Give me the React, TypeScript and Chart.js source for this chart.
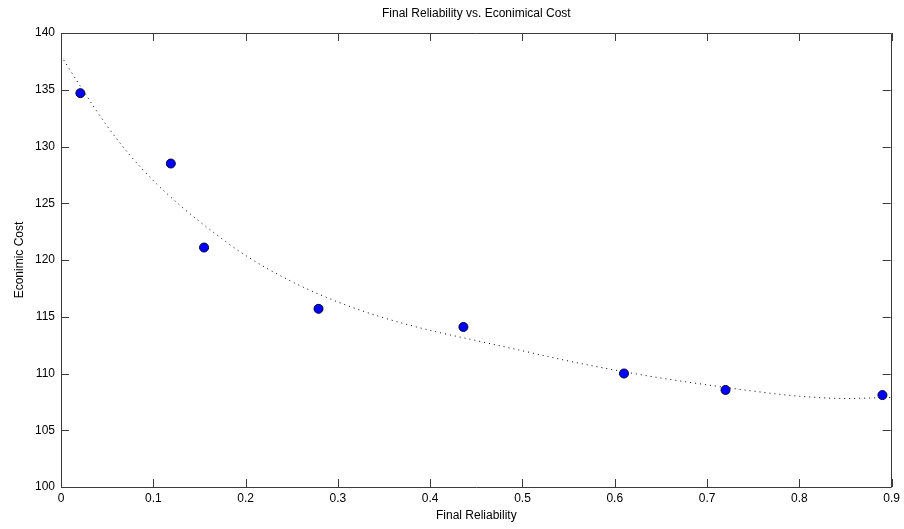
import React, { useEffect, useRef } from "react";
import { Chart, registerables } from "chart.js";

Chart.register(...registerables);

const chartTitle = "Final Reliability vs. Econimical Cost";
const xAxisTitle = "Final Reliability";
const yAxisTitle = "Econimic Cost";

const xTickValues = [0, 0.1, 0.2, 0.3, 0.4, 0.5, 0.6, 0.7, 0.8, 0.9];
const xTickLabels = ["0", "0.1", "0.2", "0.3", "0.4", "0.5", "0.6", "0.7", "0.8", "0.9"];
const yTickValues = [100, 105, 110, 115, 120, 125, 130, 135, 140];
const yTickLabels = ["100", "105", "110", "115", "120", "125", "130", "135", "140"];

// measured points
const reliability = [0.021, 0.119, 0.155, 0.279, 0.436, 0.61, 0.72, 0.89];
const cost = [134.7, 128.5, 121.1, 115.7, 114.1, 110.0, 108.55, 108.1];

// fitted curve
const fitX = [0, 0.025, 0.05, 0.075, 0.1, 0.125, 0.15, 0.2, 0.25, 0.3, 0.35, 0.4, 0.45, 0.5, 0.55, 0.6, 0.65, 0.7, 0.75, 0.8, 0.85, 0.9];
const fitY = [138.0, 134.8, 131.8, 129.2, 127.0, 125.1, 123.4, 120.4, 118.1, 116.3, 114.9, 113.8, 112.9, 112.0, 111.1, 110.3, 109.6, 109.0, 108.45, 108.0, 107.8, 107.9];

const FONT = "'Liberation Sans', Arial, sans-serif";

const boxPlugin = {
  id: "matlabBox",
  afterDatasetsDraw(chart: any) {
    const { ctx, chartArea } = chart;
    const { left, right, top, bottom } = chartArea;
    const xs = chart.scales.x;
    const ys = chart.scales.y;
    const tl = 8;
    ctx.save();
    ctx.strokeStyle = "#3a3a3a";
    ctx.lineWidth = 1;
    ctx.beginPath();
    ctx.rect(Math.round(left) + 0.5, Math.round(top) + 0.5, Math.round(right - left) - 1, Math.round(bottom - top));
    ctx.stroke();
    ctx.beginPath();
    xs.ticks.forEach((t: any) => {
      const px = Math.round(xs.getPixelForValue(t.value)) + 0.5;
      ctx.moveTo(px, bottom);
      ctx.lineTo(px, bottom - tl);
      ctx.moveTo(px, top);
      ctx.lineTo(px, top + tl);
    });
    ys.ticks.forEach((t: any) => {
      const py = Math.round(ys.getPixelForValue(t.value)) + 0.5;
      ctx.moveTo(left, py);
      ctx.lineTo(left + tl, py);
      ctx.moveTo(right - 1, py);
      ctx.lineTo(right - 1 - tl, py);
    });
    ctx.stroke();
    // title
    ctx.fillStyle = "#000";
    ctx.font = `12px ${FONT}`;
    ctx.textAlign = "center";
    ctx.textBaseline = "middle";
    ctx.fillText(chartTitle, (left + right) / 2, 14);
    ctx.restore();
  },
};

export default function App() {
  const ref = useRef<HTMLCanvasElement | null>(null);

  useEffect(() => {
    document.body.style.margin = "0";
    if (!ref.current) return;
    const chart = new Chart(ref.current, {
      type: "scatter",
      data: {
        datasets: [
          {
            label: "data",
            data: reliability.map((x, i) => ({ x, y: cost[i] })),
            pointRadius: 4.5,
            pointBackgroundColor: "#0000ff",
            pointBorderColor: "#000033",
            pointBorderWidth: 1,
            showLine: false,
          },
          {
            label: "fit",
            data: fitX.map((x, i) => ({ x, y: fitY[i] })),
            showLine: true,
            pointRadius: 0,
            borderColor: "#000",
            borderWidth: 1,
            borderDash: [1, 4],
            cubicInterpolationMode: "monotone",
            fill: false,
          },
        ],
      },
      options: {
        animation: false,
        responsive: true,
        maintainAspectRatio: false,
        layout: { padding: { top: 33, right: 12, left: 0, bottom: 0 } },
        plugins: {
          legend: { display: false },
          tooltip: { enabled: false },
          title: { display: false },
        },
        scales: {
          x: {
            type: "linear",
            min: 0,
            max: 0.9,
            grid: { display: false, drawTicks: false },
            border: { display: false },
            afterBuildTicks: (s: any) => {
              s.ticks = xTickValues.map((v) => ({ value: v }));
            },
            afterFit: (s: any) => {
              s.height = 42;
            },
            ticks: {
              padding: 4,
              color: "#000",
              font: { family: FONT, size: 12 },
              maxRotation: 0,
              autoSkip: false,
              callback: (v: any) => {
                const i = xTickValues.findIndex((t) => Math.abs(t - v) < 1e-9);
                return i >= 0 ? xTickLabels[i] : "";
              },
            },
            title: {
              display: true,
              text: xAxisTitle,
              color: "#000",
              font: { family: FONT, size: 12 },
              padding: { top: 0, bottom: 6 },
            },
          },
          y: {
            type: "linear",
            min: 100,
            max: 140,
            grid: { display: false, drawTicks: false },
            border: { display: false },
            afterBuildTicks: (s: any) => {
              s.ticks = yTickValues.map((v) => ({ value: v }));
            },
            afterFit: (s: any) => {
              s.width = 61;
            },
            ticks: {
              padding: 6,
              color: "#000",
              font: { family: FONT, size: 12 },
              autoSkip: false,
              callback: (v: any) => {
                const i = yTickValues.findIndex((t) => Math.abs(t - v) < 1e-9);
                return i >= 0 ? yTickLabels[i] : "";
              },
            },
            title: {
              display: true,
              text: yAxisTitle,
              color: "#000",
              font: { family: FONT, size: 12 },
              padding: { top: 12, bottom: 0 },
            },
          },
        },
      },
      plugins: [boxPlugin],
    } as any);
    return () => chart.destroy();
  }, []);

  return (
    <div style={{ width: 904, height: 529, position: "relative", background: "#fff" }}>
      <canvas ref={ref} />
    </div>
  );
}
